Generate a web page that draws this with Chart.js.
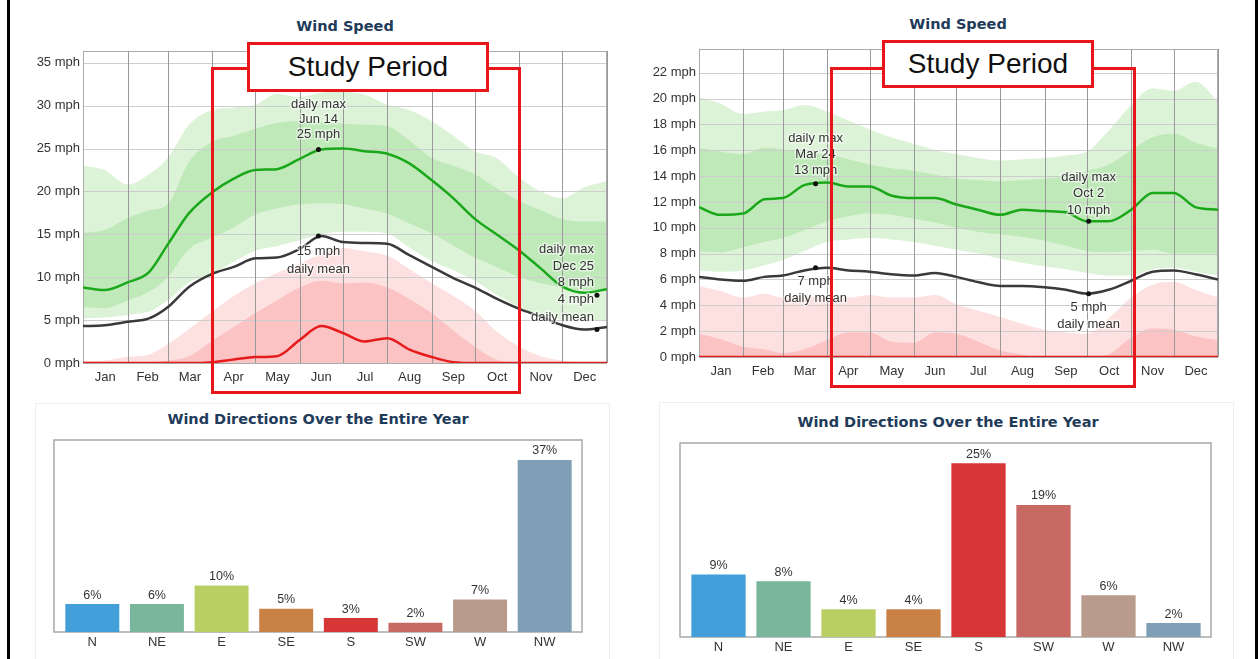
<!DOCTYPE html>
<html>
<head>
<meta charset="utf-8">
<title>Wind speed and wind direction</title>
<script src="https://cdn.jsdelivr.net/npm/chart.js@4.4.1/dist/chart.umd.min.js"></script>
<style>
  body { margin: 0; background: #fff; }
  #page { position: relative; width: 1259px; height: 659px; overflow: hidden; font-family: Arial, "Liberation Sans", sans-serif; }
  canvas { position: absolute; }
  .title { position: absolute; transform: translate(-50%, -50%); font-family: Verdana, "DejaVu Sans", sans-serif;
           font-weight: bold; font-size: 14.5px; color: #1f3b5a; white-space: nowrap; }
  .study { position: absolute; border: 3px solid #e8161b; box-sizing: border-box; }
  .studyLabel { position: absolute; border: 3px solid #e8161b; background: #fff; box-sizing: border-box;
                font-size: 28px; color: #111; display: flex; align-items: center; justify-content: center; }
  .panel { position: absolute; border: 1px solid #efefef; }
  .edge { position: absolute; background: #000; }
</style>
</head>
<body>
<div id="page">
  <div class="panel" style="left:35px;top:403px;width:573px;height:260px"></div>
  <div class="panel" style="left:659px;top:402px;width:573px;height:260px"></div>

  <canvas id="speedA" width="600" height="355" style="left:20px;top:40px"></canvas>
  <canvas id="speedB" width="600" height="350" style="left:635px;top:38px"></canvas>
  <canvas id="dirA" width="580" height="229" style="left:30px;top:430px"></canvas>
  <canvas id="dirB" width="590" height="229" style="left:650px;top:430px"></canvas>

  <div class="title" style="left:345px;top:26px">Wind Speed</div>
  <div class="title" style="left:958px;top:24px">Wind Speed</div>
  <div class="title" style="left:318px;top:419px">Wind Directions Over the Entire Year</div>
  <div class="title" style="left:948px;top:422px">Wind Directions Over the Entire Year</div>

  <div class="study" style="left:211px;top:67px;width:310px;height:327px"></div>
  <div class="studyLabel" style="left:247px;top:42px;width:242px;height:50px">Study Period</div>
  <div class="study" style="left:830px;top:67px;width:306px;height:321px"></div>
  <div class="studyLabel" style="left:882px;top:40px;width:212px;height:48px">Study Period</div>

  <div class="edge" style="left:7px;top:0;width:3px;height:659px"></div>
  <div class="edge" style="left:1255px;top:0;width:3px;height:659px"></div>
</div>

<script>
// calendar
const months = ['Jan', 'Feb', 'Mar', 'Apr', 'May', 'Jun', 'Jul', 'Aug', 'Sep', 'Oct', 'Nov', 'Dec'];
const monthStarts = [0, 31, 59, 90, 120, 151, 181, 212, 243, 273, 304, 334, 365];
const monthMids = [15.5, 45, 74.5, 105, 135.5, 166, 196.5, 227.5, 258, 288.5, 319, 349.5];
// day of year for the 1st and 15th of every month
const sampleDays = [0, 15, 31, 46, 59, 74, 90, 105, 120, 135, 151, 166, 181, 196, 212, 227, 243, 258, 273, 288, 304, 319, 334, 349, 365];

// left site, mph
const maxA   = [8.8, 8.5, 9.4, 10.6, 13.8, 17.5, 19.9, 21.5, 22.5, 22.6, 23.8, 24.9, 25.0, 24.7, 24.4, 23.3, 21.3, 19.2, 16.8, 15.0, 13.1, 11.0, 8.9, 8.2, 8.6];
const meanA  = [4.3, 4.4, 4.8, 5.2, 6.5, 8.9, 10.4, 11.2, 12.2, 12.3, 13.3, 14.8, 14.1, 14.0, 13.9, 12.6, 11.2, 9.9, 8.8, 7.5, 6.3, 5.4, 4.4, 3.9, 4.2];
const minA   = [0, 0, 0, 0, 0, 0, 0.1, 0.4, 0.7, 0.8, 2.7, 4.3, 3.5, 2.5, 2.9, 1.6, 0.7, 0.1, 0, 0, 0, 0, 0, 0, 0];
const maxA90 = [23.0, 22.5, 20.8, 22.0, 23.9, 27.8, 29.5, 29.8, 30.1, 31.4, 31.0, 31.5, 31.6, 31.3, 30.1, 29.5, 28.2, 26.5, 24.7, 23.9, 21.6, 20.0, 19.2, 20.5, 21.2];
const maxA75 = [15.2, 15.5, 16.9, 17.8, 18.5, 23.5, 25.8, 26.5, 27.3, 28.0, 28.2, 28.1, 27.9, 27.8, 27.6, 26.0, 23.9, 23.0, 22.0, 20.4, 18.9, 17.8, 16.8, 16.5, 16.5];
const maxA25 = [6.5, 6.4, 7.3, 8.3, 10.0, 13.3, 14.6, 15.8, 17.3, 18.0, 18.5, 18.6, 18.5, 18.0, 17.4, 16.3, 15.1, 13.7, 12.3, 11.2, 10.0, 9.3, 8.8, 8.5, 8.5];
const maxA10 = [5.2, 5.3, 5.6, 6.0, 7.3, 9.4, 10.4, 11.8, 13.1, 13.6, 14.3, 15.0, 15.3, 15.3, 15.1, 13.5, 11.9, 10.8, 9.6, 8.0, 6.5, 5.6, 5.0, 4.9, 5.0];
const minA90 = [0.2, 0.3, 0.7, 1.0, 2.2, 4.0, 6.0, 7.8, 9.3, 10.5, 11.6, 12.7, 13.4, 13.0, 12.5, 11.0, 9.3, 7.8, 6.1, 3.7, 1.9, 0.8, 0.3, 0.1, 0.1];
const minA75 = [0, 0, 0, 0.1, 0.3, 0.8, 2.6, 4.2, 5.8, 7.3, 8.8, 9.6, 9.3, 9.4, 8.8, 7.5, 5.8, 3.8, 1.9, 0.4, 0, 0, 0, 0, 0];
const markDaysA = [164, 358];        // Jun 14, Dec 25
const markMaxA = [24.9, 7.9];
const markMeanA = [14.8, 3.9];

// right site, mph
const maxB   = [11.6, 11.0, 11.1, 12.2, 12.3, 13.3, 13.5, 13.2, 13.2, 12.5, 12.3, 12.3, 11.8, 11.4, 11.0, 11.4, 11.3, 11.2, 10.5, 10.5, 11.4, 12.7, 12.7, 11.6, 11.4];
const meanB  = [6.2, 6.0, 5.9, 6.2, 6.3, 6.7, 6.9, 6.7, 6.6, 6.4, 6.3, 6.5, 6.2, 5.8, 5.5, 5.5, 5.4, 5.2, 4.9, 5.2, 5.9, 6.6, 6.7, 6.4, 6.0];
const minB   = [0, 0, 0, 0, 0, 0, 0, 0, 0, 0, 0, 0, 0, 0, 0, 0, 0, 0, 0, 0, 0, 0, 0, 0, 0];
const maxB90 = [20.1, 19.6, 18.8, 19.0, 19.1, 19.5, 19.0, 18.3, 17.6, 17.0, 16.5, 16.0, 15.7, 15.4, 15.2, 15.3, 15.4, 15.6, 15.9, 17.5, 19.5, 20.8, 20.6, 21.3, 19.8];
const maxB75 = [16.2, 15.9, 15.7, 16.2, 16.1, 15.8, 15.7, 15.3, 14.9, 14.6, 14.4, 14.1, 13.8, 13.7, 13.6, 13.7, 13.8, 14.0, 14.4, 14.9, 16.0, 17.0, 17.3, 16.6, 16.1];
const maxB25 = [8.2, 8.1, 8.5, 8.9, 9.2, 9.8, 10.5, 10.9, 11.1, 11.0, 10.7, 10.4, 10.0, 9.7, 9.5, 9.3, 9.0, 8.6, 8.2, 8.1, 8.2, 8.3, 8.0, 8.0, 8.0];
const maxB10 = [6.7, 6.6, 6.7, 7.1, 7.5, 8.2, 8.9, 9.1, 9.2, 9.1, 8.9, 8.6, 8.3, 8.0, 7.6, 7.3, 7.0, 6.8, 6.5, 6.3, 6.3, 6.8, 6.9, 6.6, 6.3];
const minB90 = [5.5, 5.1, 4.6, 4.9, 4.6, 4.7, 4.6, 4.6, 4.8, 4.6, 4.6, 4.8, 4.1, 3.6, 3.1, 2.6, 2.1, 1.9, 1.8, 3.0, 4.6, 5.6, 5.8, 5.2, 4.6];
const minB75 = [1.8, 1.4, 0.8, 0.6, 0.3, 0.6, 1.3, 1.9, 1.9, 1.2, 1.1, 1.9, 1.8, 1.2, 0.5, 0.2, 0, 0, 0, 0.2, 1.5, 2.2, 2.1, 1.6, 1.3];
const markDaysB = [82, 274];         // Mar 24, Oct 2
const markMaxB = [13.4, 10.5];
const markMeanB = [6.9, 4.9];

// wind directions, % of the year
const directions = ['N', 'NE', 'E', 'SE', 'S', 'SW', 'W', 'NW'];
const dirShareA = [6, 6, 10, 5, 3, 2, 7, 37];
const dirShareB = [9, 8, 4, 4, 25, 19, 6, 2];

const dirColors = ['#429fd9', '#7ab69c', '#b9cf64', '#c98146', '#d63636', '#c86a63', '#b99b8d', '#7e9fb6'];
const FONT = 'Arial, "Liberation Sans", sans-serif';

// grid lines go over the shaded bands but under the lines
const gridOver = {
  id: 'gridOver',
  beforeDatasetsDraw(chart) {
    const { ctx, chartArea: a, scales: { x, y } } = chart;
    ctx.save();
    ctx.lineWidth = 1;
    ctx.strokeStyle = '#cdcdcd';
    y.ticks.forEach(t => {
      const py = Math.round(y.getPixelForValue(t.value)) + 0.5;
      ctx.beginPath(); ctx.moveTo(a.left, py); ctx.lineTo(a.right, py); ctx.stroke();
    });
    ctx.strokeStyle = '#999';
    monthStarts.forEach(d => {
      const px = Math.round(x.getPixelForValue(d)) + 0.5;
      ctx.beginPath(); ctx.moveTo(px, a.top); ctx.lineTo(px, a.bottom); ctx.stroke();
    });
    ctx.strokeStyle = '#aaa';
    ctx.strokeRect(Math.round(a.left) + 0.5, Math.round(a.top) + 0.5, Math.round(a.width) - 1, Math.round(a.height));
    ctx.restore();
  }
};

// text next to the marked days
const notes = {
  id: 'notes',
  afterDatasetsDraw(chart, args, opts) {
    const { ctx, scales: { x, y } } = chart;
    ctx.save();
    ctx.font = '13px ' + FONT;
    ctx.textBaseline = 'middle';
    ctx.lineJoin = 'round';
    opts.items.forEach(n => {
      const px = x.getPixelForValue(n.day) + (n.dx || 0);
      const py = y.getPixelForValue(n.value);
      ctx.textAlign = n.align || 'center';
      n.lines.forEach((s, i) => {
        ctx.strokeStyle = 'rgba(255,255,255,0.55)';
        ctx.lineWidth = 3;
        ctx.strokeText(s, px, py + n.dy[i]);
        ctx.fillStyle = '#333';
        ctx.fillText(s, px, py + n.dy[i]);
      });
    });
    ctx.restore();
  }
};

function windChart(id, s, yMax, yStep, yWidth, xHeight, pad, items) {
  const pts = arr => arr.map((v, i) => ({ x: sampleDays[i], y: v }));
  const line = (arr, color) => ({ data: pts(arr), borderColor: color, borderWidth: 2.5, pointRadius: 0,
                                  fill: false, cubicInterpolationMode: 'monotone' });
  const band = (arr, color, fill) => ({ data: pts(arr), borderWidth: 0, borderColor: 'rgba(0,0,0,0)',
                                        backgroundColor: color, pointRadius: 0, fill: fill, cubicInterpolationMode: 'monotone' });
  const marks = vals => ({ data: vals.map((v, i) => ({ x: s.markDays[i], y: v })), showLine: false,
                           pointRadius: 2.5, pointBackgroundColor: '#111', pointBorderWidth: 0 });

  new Chart(document.getElementById(id), {
    type: 'line',
    data: {
      datasets: [
        marks(s.markMax),
        marks(s.markMean),
        line(s.max, '#1aa81a'),
        line(s.mean, '#3a3a3a'),
        line(s.min, '#e61c1c'),
        band(s.max75, '#c0e9ba', '+1'),
        band(s.max25, 'rgba(0,0,0,0)', false),
        band(s.min75, '#fbc3c3', 'origin'),
        band(s.max90, '#ddf3d8', '+1'),
        band(s.max10, 'rgba(0,0,0,0)', false),
        band(s.min90, '#fde1e1', 'origin')
      ]
    },
    options: {
      responsive: false,
      animation: false,
      layout: { padding: pad },
      plugins: {
        legend: { display: false },
        tooltip: { enabled: false },
        filler: { drawTime: 'beforeDatasetsDraw' },
        notes: { items: items }
      },
      scales: {
        x: {
          type: 'linear', min: 0, max: 365,
          grid: { display: false, drawTicks: false }, border: { display: false },
          afterBuildTicks: scale => { scale.ticks = monthMids.map(v => ({ value: v })); },
          afterFit: scale => { scale.height = xHeight; },
          ticks: { autoSkip: false, maxRotation: 0, padding: 7, color: '#333', font: { size: 13, family: FONT },
                   callback: (v, i) => months[i] }
        },
        y: {
          min: 0, max: yMax,
          grid: { display: false, drawTicks: false }, border: { display: false },
          afterFit: scale => { scale.width = yWidth; },
          ticks: { stepSize: yStep, includeBounds: false, padding: 3, color: '#333', font: { size: 13, family: FONT },
                   callback: v => v + ' mph' }
        }
      }
    },
    plugins: [gridOver, notes]
  });
}

windChart('speedA', {
  max: maxA, mean: meanA, min: minA, max90: maxA90, max75: maxA75, max25: maxA25, max10: maxA10,
  min90: minA90, min75: minA75, markDays: markDaysA, markMax: markMaxA, markMean: markMeanA
}, 36.4, 5, 63, 32, { top: 9, right: 13 }, [
  { day: markDaysA[0], value: markMaxA[0], lines: ['daily max', 'Jun 14', '25 mph'], dy: [-45, -30, -15] },
  { day: markDaysA[0], value: markMeanA[0], lines: ['15 mph', 'daily mean'], dy: [15, 33] },
  { day: markDaysA[1], value: markMaxA[1], lines: ['daily max', 'Dec 25', '8 mph'], dy: [-46, -29, -13], align: 'right', dx: -3 },
  { day: markDaysA[1], value: markMeanA[1], lines: ['4 mph', 'daily mean'], dy: [-30, -12], align: 'right', dx: -3 }
]);

windChart('speedB', {
  max: maxB, mean: meanB, min: minB, max90: maxB90, max75: maxB75, max25: maxB25, max10: maxB10,
  min90: minB90, min75: minB75, markDays: markDaysB, markMax: markMaxB, markMean: markMeanB
}, 23.85, 2, 64, 31, { top: 9, right: 17 }, [
  { day: markDaysB[0], value: markMaxB[0], lines: ['daily max', 'Mar 24', '13 mph'], dy: [-45, -29, -13] },
  { day: markDaysB[0], value: markMeanB[0], lines: ['7 mph', 'daily mean'], dy: [14, 31] },
  { day: markDaysB[1], value: markMaxB[1], lines: ['daily max', 'Oct 2', '10 mph'], dy: [-44, -28, -11] },
  { day: markDaysB[1], value: markMeanB[1], lines: ['5 mph', 'daily mean'], dy: [14, 31] }
]);

// Direction bars

const dirBox = {
  id: 'dirBox',
  beforeDatasetsDraw(chart) {
    const { ctx, chartArea: a } = chart;
    ctx.save();
    ctx.strokeStyle = '#a8a8a8';
    ctx.lineWidth = 1.5;
    ctx.strokeRect(a.left - 6, a.top, a.width + 11, a.height);
    ctx.restore();
  }
};

const barValues = {
  id: 'barValues',
  afterDatasetsDraw(chart) {
    const { ctx } = chart;
    const meta = chart.getDatasetMeta(0);
    ctx.save();
    ctx.font = '12.5px ' + FONT;
    ctx.fillStyle = '#333';
    ctx.textAlign = 'center';
    ctx.textBaseline = 'middle';
    meta.data.forEach((bar, i) => {
      ctx.fillText(chart.data.datasets[0].data[i] + '%', bar.x, bar.y - 9);
    });
    ctx.restore();
  }
};

function dirChart(id, shares, yMax, xHeight, pad) {
  new Chart(document.getElementById(id), {
    type: 'bar',
    data: {
      labels: directions,
      datasets: [{ data: shares, backgroundColor: dirColors, barPercentage: 0.835, categoryPercentage: 1 }]
    },
    options: {
      responsive: false,
      animation: false,
      layout: { padding: pad },
      plugins: { legend: { display: false }, tooltip: { enabled: false } },
      scales: {
        x: {
          grid: { display: false, drawTicks: false }, border: { display: false },
          afterFit: scale => { scale.height = xHeight; },
          ticks: { padding: 3, color: '#333', font: { size: 13, family: FONT } }
        },
        y: { display: false, min: 0, max: yMax }
      }
    },
    plugins: [dirBox, barValues]
  });
}

dirChart('dirA', dirShareA, 41.3, 27, { top: 10, left: 30, right: 33 });
dirChart('dirB', dirShareB, 27.9, 22, { top: 13, left: 36, right: 34 });
</script>
</body>
</html>
